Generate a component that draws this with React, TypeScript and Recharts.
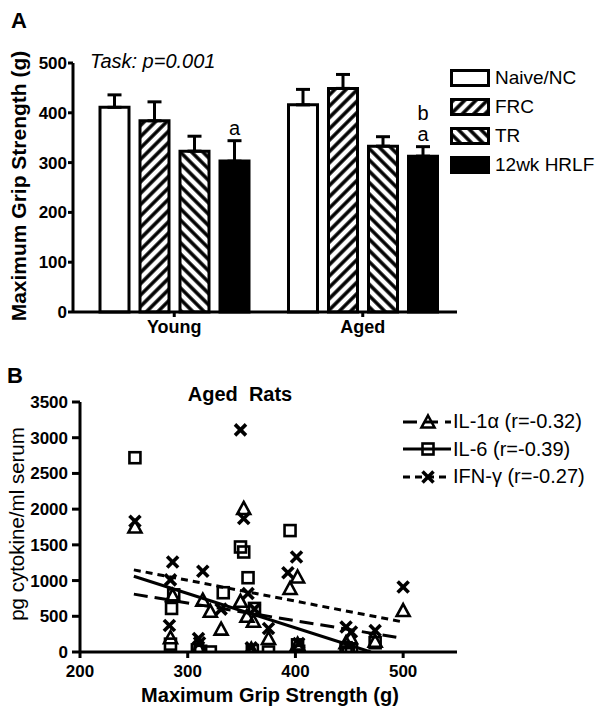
import React from "react";
import {
  Bar,
  BarChart,
  ErrorBar,
  LabelList,
  Legend,
  Scatter,
  ScatterChart,
  XAxis,
  YAxis,
} from "recharts";

const FONT = "Arial, 'Liberation Sans', Helvetica, sans-serif";

// ---------------------------------------------------------------------------
// Panel A data: grip strength by age group
// ---------------------------------------------------------------------------

const ageGroups = ["Young", "Aged"];
const naiveMean = [411, 416];
const naiveSem = [25, 31];
const frcMean = [384, 449];
const frcSem = [38, 28];
const trMean = [323, 333];
const trSem = [30, 19];
const hrlfMean = [303, 313];
const hrlfSem = [41, 19];
const sigLetters = [["a"], ["b", "a"]];
const gripTicks = [0, 100, 200, 300, 400, 500];

const groupLegend = [
  { label: "Naive/NC", fill: "#fff" },
  { label: "FRC", fill: "url(#hatchFwd)" },
  { label: "TR", fill: "url(#hatchBack)" },
  { label: "12wk HRLF", fill: "#000" },
];

// ---------------------------------------------------------------------------
// Panel B data: serum cytokines vs grip strength (aged rats)
// ---------------------------------------------------------------------------

const il1aPoints: [number, number][] = [
  [251, 1750], [284, 200], [286, 790], [314, 725], [321, 570], [331, 320],
  [349, 710], [352, 2010], [355, 500], [361, 430], [375, 190], [395, 890],
  [402, 1050], [402, 110], [447, 130], [451, 200], [474, 150], [500, 580],
  [310, 60], [359, 40],
];
const il6Points: [number, number][] = [
  [251, 2720], [284, 110], [285, 610], [287, 800], [309, 30], [312, 10],
  [321, 0], [333, 830], [349, 1470], [352, 1400], [356, 1040], [362, 610],
  [360, 20], [375, 0], [395, 1700], [402, 100], [403, 10], [447, 60],
  [449, 0], [452, 30], [474, 130],
];
const ifngPoints: [number, number][] = [
  [251, 1830], [283, 370], [284, 1010], [286, 1260], [310, 190], [311, 130],
  [314, 1130], [331, 600], [349, 3110], [352, 1870], [356, 820], [362, 600],
  [359, 60], [375, 330], [393, 1110], [401, 1330], [403, 120], [447, 350],
  [452, 280], [474, 300], [500, 910],
];

// regression line end points
const il1aFit: [number, number][] = [[250, 810], [500, 190]];
const il6Fit: [number, number][] = [[250, 1060], [470, 0]];
const ifngFit: [number, number][] = [[250, 1150], [500, 420]];

const cytoXTicks = [200, 300, 400, 500];
const cytoYTicks = [0, 500, 1000, 1500, 2000, 2500, 3000, 3500];

const DASH_LONG = "14 7";
const DASH_SHORT = "7 5";

const cytoLegend = [
  { label: "IL-1\u03b1 (r=-0.32)", dash: DASH_LONG, marker: "tri" },
  { label: "IL-6 (r=-0.39)", dash: undefined, marker: "sq" },
  { label: "IFN-\u03b3 (r=-0.27)", dash: DASH_SHORT, marker: "x" },
];

const toPts = (arr: [number, number][]) => arr.map(([x, y]) => ({ x, y }));

const barData = ageGroups.map((group, i) => ({
  group,
  naive: naiveMean[i],
  naiveErr: [0, naiveSem[i]],
  frc: frcMean[i],
  frcErr: [0, frcSem[i]],
  tr: trMean[i],
  trErr: [0, trSem[i]],
  hrlf: hrlfMean[i],
  hrlfErr: [0, hrlfSem[i]],
}));

// ---------------------------------------------------------------------------
// Markers
// ---------------------------------------------------------------------------

function Marker({ kind, cx, cy }: { kind: string; cx: number; cy: number }) {
  if (kind === "tri") {
    return (
      <path
        d={`M${cx},${cy - 6.5} L${cx + 6.5},${cy + 5.5} L${cx - 6.5},${cy + 5.5} Z`}
        fill="none"
        stroke="#000"
        strokeWidth={2.6}
      />
    );
  }
  if (kind === "sq") {
    return (
      <rect
        x={cx - 5.5}
        y={cy - 5.5}
        width={11}
        height={11}
        fill="none"
        stroke="#000"
        strokeWidth={2.6}
      />
    );
  }
  return (
    <g stroke="#000" strokeWidth={3.6}>
      <line x1={cx - 5.5} y1={cy - 5.5} x2={cx + 5.5} y2={cy + 5.5} />
      <line x1={cx - 5.5} y1={cy + 5.5} x2={cx + 5.5} y2={cy - 5.5} />
    </g>
  );
}

const triShape = (p: any) => <Marker kind="tri" cx={p.cx} cy={p.cy} />;
const sqShape = (p: any) => <Marker kind="sq" cx={p.cx} cy={p.cy} />;
const xShape = (p: any) => <Marker kind="x" cx={p.cx} cy={p.cy} />;
const noShape = () => <g />;

// ---------------------------------------------------------------------------
// Significance letters above the HRLF bars
// ---------------------------------------------------------------------------

function SigLabel(props: any) {
  const vb = props.viewBox ?? props;
  const idx = props.index ?? 0;
  const x = vb.x;
  const y = vb.y;
  const w = vb.width;
  const h = Math.abs(vb.height);
  const capY = y - hrlfSem[idx] * (h / hrlfMean[idx]);
  const letters = sigLetters[idx] ?? [];
  return (
    <g>
      {letters.map((l, k) => (
        <text
          key={k}
          x={x + w / 2}
          y={capY - 6 - (letters.length - 1 - k) * 21}
          textAnchor="middle"
          fontSize={20}
          fontFamily={FONT}
          fill="#000"
        >
          {l}
        </text>
      ))}
    </g>
  );
}

// ---------------------------------------------------------------------------
// Legends
// ---------------------------------------------------------------------------

function GroupLegend() {
  return (
    <div style={{ fontFamily: FONT, fontSize: 19, color: "#000" }}>
      {groupLegend.map((g) => (
        <div
          key={g.label}
          style={{ display: "flex", alignItems: "center", height: 29 }}
        >
          <svg width={40} height={18}>
            <rect
              x={1.5}
              y={1.5}
              width={37}
              height={15}
              fill={g.fill}
              stroke="#000"
              strokeWidth={3}
            />
          </svg>
          <span style={{ marginLeft: 5, whiteSpace: "nowrap" }}>{g.label}</span>
        </div>
      ))}
    </div>
  );
}

function CytoLegend() {
  return (
    <div style={{ fontFamily: FONT, fontSize: 20, color: "#000" }}>
      {cytoLegend.map((c) => (
        <div
          key={c.label}
          style={{ display: "flex", alignItems: "center", height: 27.5 }}
        >
          <svg width={48} height={20}>
            <line
              x1={0}
              x2={48}
              y1={10}
              y2={10}
              stroke="#000"
              strokeWidth={3}
              strokeDasharray={c.dash}
            />
            <Marker kind={c.marker} cx={25} cy={10} />
          </svg>
          <span style={{ marginLeft: 2, whiteSpace: "nowrap" }}>{c.label}</span>
        </div>
      ))}
    </div>
  );
}

// ---------------------------------------------------------------------------
// Page
// ---------------------------------------------------------------------------

const axisStroke = { stroke: "#000", strokeWidth: 3 };
const tickFont = { fill: "#000", fontSize: 17, fontWeight: 700, fontFamily: FONT };

export default function App() {
  return (
    <div
      style={{
        position: "absolute",
        left: 0,
        top: 0,
        width: 600,
        height: 716,
        background: "#fff",
        fontFamily: FONT,
      }}
    >
      <svg width={0} height={0} style={{ position: "absolute" }}>
        <defs>
          <pattern
            id="hatchFwd"
            patternUnits="userSpaceOnUse"
            width={8}
            height={8}
            patternTransform="rotate(45)"
          >
            <rect width={8} height={8} fill="#fff" />
            <line x1={4} y1={0} x2={4} y2={8} stroke="#000" strokeWidth={3.5} />
          </pattern>
          <pattern
            id="hatchBack"
            patternUnits="userSpaceOnUse"
            width={8}
            height={8}
            patternTransform="rotate(-45)"
          >
            <rect width={8} height={8} fill="#fff" />
            <line x1={4} y1={0} x2={4} y2={8} stroke="#000" strokeWidth={3.5} />
          </pattern>
        </defs>
      </svg>

      {/* Panel A */}
      <div style={{ position: "absolute", left: 0, top: 0 }}>
        <BarChart
          width={600}
          height={340}
          data={barData}
          barGap={11}
          margin={{ top: 63, right: 143, bottom: 0, left: 0 }}
        >
          <XAxis
            dataKey="group"
            height={28}
            padding={{ left: 7, right: 0 }}
            axisLine={axisStroke}
            tickLine={axisStroke}
            tickSize={5}
            tickMargin={3}
            tick={{ ...tickFont, fontSize: 18 }}
          />
          <YAxis
            width={73}
            domain={[0, 500]}
            ticks={gripTicks}
            interval={0}
            axisLine={axisStroke}
            tickLine={axisStroke}
            tickSize={5}
            tickMargin={1}
            tick={tickFont}
          />
          <Legend
            layout="vertical"
            align="center"
            verticalAlign="middle"
            content={<GroupLegend />}
            wrapperStyle={{ left: 450, top: 63, width: 150, height: "auto" }}
          />
          <Bar dataKey="naive" barSize={29} fill="#fff" stroke="#000" strokeWidth={3} isAnimationActive={false}>
            <ErrorBar dataKey="naiveErr" direction="y" width={7} stroke="#000" strokeWidth={3} />
          </Bar>
          <Bar dataKey="frc" barSize={29} fill="url(#hatchFwd)" stroke="#000" strokeWidth={3} isAnimationActive={false}>
            <ErrorBar dataKey="frcErr" direction="y" width={7} stroke="#000" strokeWidth={3} />
          </Bar>
          <Bar dataKey="tr" barSize={29} fill="url(#hatchBack)" stroke="#000" strokeWidth={3} isAnimationActive={false}>
            <ErrorBar dataKey="trErr" direction="y" width={7} stroke="#000" strokeWidth={3} />
          </Bar>
          <Bar dataKey="hrlf" barSize={29} fill="#000" stroke="#000" strokeWidth={3} isAnimationActive={false}>
            <ErrorBar dataKey="hrlfErr" direction="y" width={7} stroke="#000" strokeWidth={3} />
            <LabelList dataKey="hrlf" content={SigLabel} />
          </Bar>
        </BarChart>
      </div>

      {/* Panel B */}
      <div style={{ position: "absolute", left: 0, top: 340 }}>
        <ScatterChart
          width={600}
          height={376}
          margin={{ top: 62, right: 143, bottom: 0, left: 0 }}
        >
          <XAxis
            type="number"
            dataKey="x"
            domain={[200, 550]}
            ticks={cytoXTicks}
            interval={0}
            allowDataOverflow
            height={64}
            axisLine={axisStroke}
            tickLine={axisStroke}
            tickSize={6}
            tickMargin={7}
            tick={tickFont}
          />
          <YAxis
            type="number"
            dataKey="y"
            domain={[0, 3500]}
            ticks={cytoYTicks}
            interval={0}
            allowDataOverflow
            width={80}
            axisLine={axisStroke}
            tickLine={axisStroke}
            tickSize={8}
            tickMargin={4}
            tick={tickFont}
          />
          <Legend
            layout="vertical"
            align="center"
            verticalAlign="middle"
            content={<CytoLegend />}
            wrapperStyle={{ left: 403, top: 68, width: 197, height: "auto" }}
          />
          <Scatter data={toPts(il1aFit)} shape={noShape} line={{ stroke: "#000", strokeWidth: 3, strokeDasharray: DASH_LONG }} isAnimationActive={false} />
          <Scatter data={toPts(il6Fit)} shape={noShape} line={{ stroke: "#000", strokeWidth: 3 }} isAnimationActive={false} />
          <Scatter data={toPts(ifngFit)} shape={noShape} line={{ stroke: "#000", strokeWidth: 3, strokeDasharray: DASH_SHORT }} isAnimationActive={false} />
          <Scatter data={toPts(il1aPoints)} shape={triShape} isAnimationActive={false} />
          <Scatter data={toPts(il6Points)} shape={sqShape} isAnimationActive={false} />
          <Scatter data={toPts(ifngPoints)} shape={xShape} isAnimationActive={false} />
        </ScatterChart>
      </div>

      {/* panel letters, titles and axis names */}
      <svg
        width={600}
        height={716}
        style={{ position: "absolute", left: 0, top: 0, pointerEvents: "none" }}
        fontFamily={FONT}
        fill="#000"
      >
        <text x={11} y={28} fontSize={22} fontWeight={700}>A</text>
        <text x={90} y={68} fontSize={20} fontStyle="italic">Task: p=0.001</text>
        <text
          transform="translate(26,186) rotate(-90)"
          textAnchor="middle"
          fontSize={21}
          fontWeight={700}
        >
          Maximum Grip Strength (g)
        </text>

        <text x={7} y={383} fontSize={22} fontWeight={700}>B</text>
        <text x={240} y={401} textAnchor="middle" fontSize={20} fontWeight={700} style={{ whiteSpace: "pre" }}>
          {"Aged  Rats"}
        </text>
        <text
          transform="translate(24,524) rotate(-90)"
          textAnchor="middle"
          fontSize={20.5}
        >
          pg cytokine/ml serum
        </text>
        <text x={270} y={702} textAnchor="middle" fontSize={20} fontWeight={700}>
          Maximum Grip Strength (g)
        </text>
      </svg>
    </div>
  );
}
